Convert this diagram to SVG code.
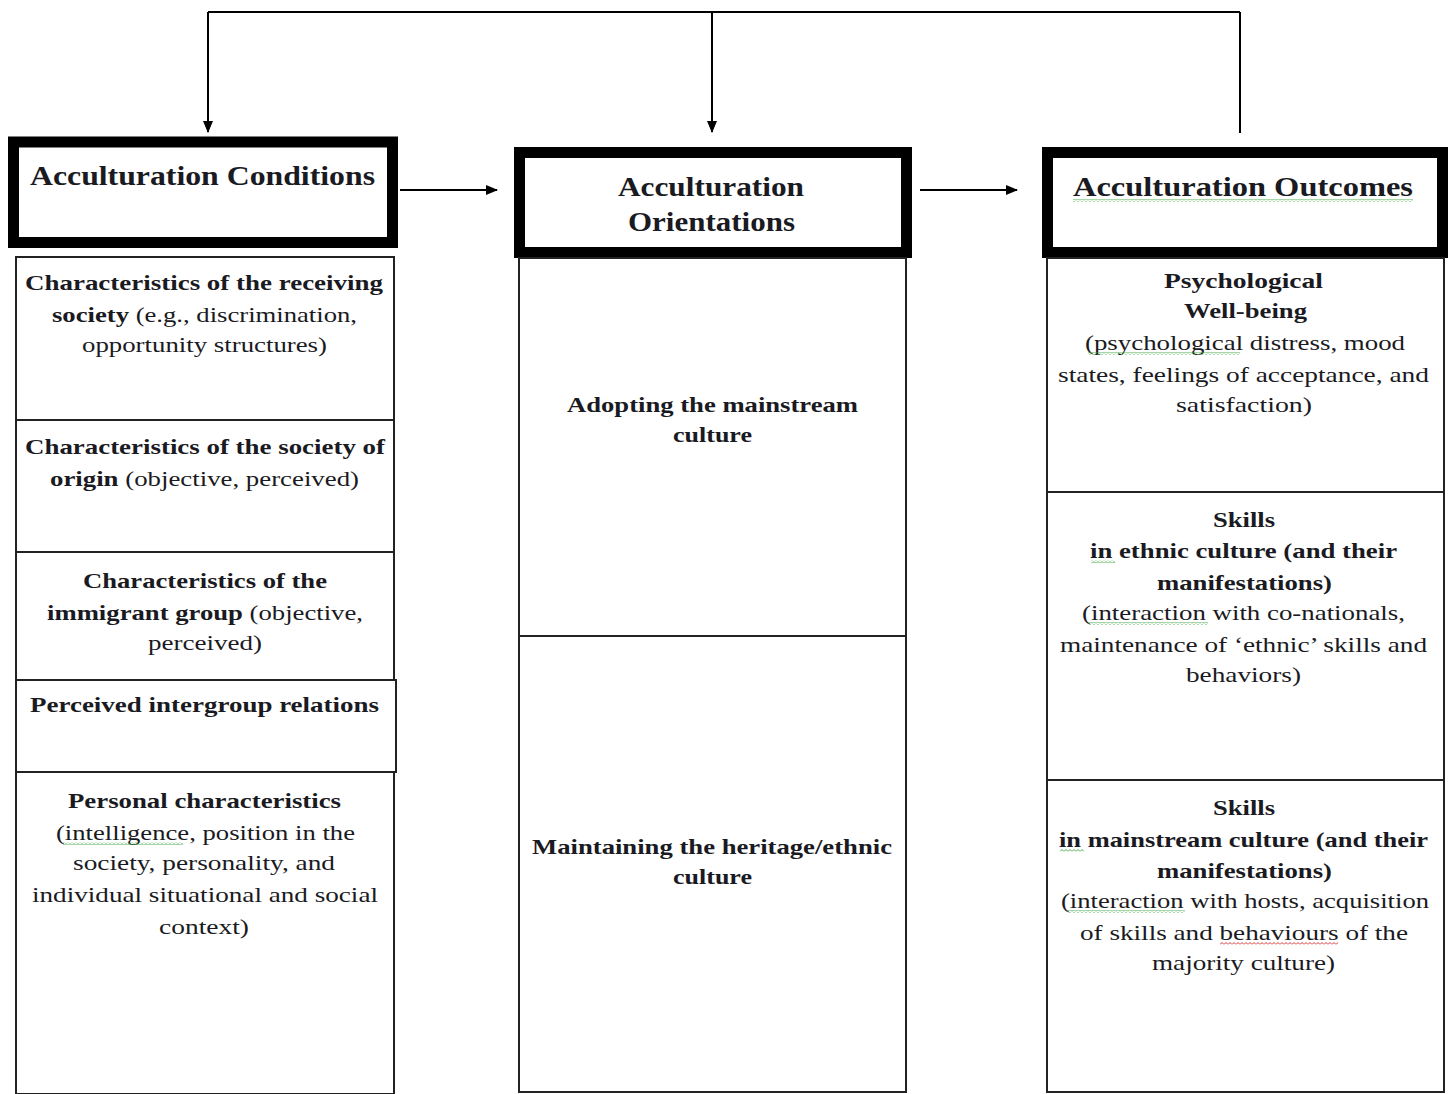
<svg xmlns="http://www.w3.org/2000/svg" width="1453" height="1094" viewBox="0 0 1453 1094">
<defs>
<marker id="ah" markerWidth="12" markerHeight="10" refX="11" refY="5" orient="auto" markerUnits="userSpaceOnUse">
<path d="M0,0 L12,5 L0,10 Z" fill="#000"/>
</marker>
<pattern id="sqg" width="4" height="3" patternUnits="userSpaceOnUse">
<path d="M0,2.5 L2,0.5 L4,2.5" fill="none" stroke="#3aa53a" stroke-width="0.9"/>
</pattern>
<pattern id="sqr" width="4" height="3" patternUnits="userSpaceOnUse">
<path d="M0,2.5 L2,0.5 L4,2.5" fill="none" stroke="#d02020" stroke-width="0.9"/>
</pattern>
</defs>
<style>
.hdr{fill:#fff;stroke:#000;stroke-width:11}
.box{fill:#fff;stroke:#222;stroke-width:2}
.con{fill:none;stroke:#000;stroke-width:2}
text{font-family:"Liberation Serif","Times New Roman",serif;fill:#1a1a22;text-anchor:middle}
.ht{font-size:28px;font-weight:bold}
.t{font-size:22px}
.b{font-weight:bold}
</style>
<rect width="1453" height="1094" fill="#fff"/>

<g id="connectors">
<path class="con" d="M208,12 L1240,12"/>
<path class="con" d="M208,12 L208,132" marker-end="url(#ah)"/>
<path class="con" d="M712,12 L712,132" marker-end="url(#ah)"/>
<path class="con" d="M1240,12 L1240,133"/>
<path class="con" d="M400,190 L497,190" marker-end="url(#ah)"/>
<path class="con" d="M920,190 L1017,190" marker-end="url(#ah)"/>
</g>

<g id="conditions-header">
<rect class="hdr" x="13.5" y="142" width="379" height="100.5"/>
<text class="ht" x="202.5" y="185" textLength="345" lengthAdjust="spacingAndGlyphs">Acculturation  Conditions</text>
</g>
<g id="receiving-society">
<rect class="box" x="16" y="257" width="378" height="163"/>
<text class="t" x="204" y="290" textLength="358" lengthAdjust="spacingAndGlyphs"><tspan class="b">Characteristics of the receiving</tspan></text>
<text class="t" x="204.5" y="322" textLength="305" lengthAdjust="spacingAndGlyphs"><tspan class="b">society</tspan> (e.g.,  discrimination,</text>
<text class="t" x="204.5" y="352" textLength="245" lengthAdjust="spacingAndGlyphs">opportunity structures)</text>
</g>
<g id="society-of-origin">
<rect class="box" x="16" y="420" width="378" height="132"/>
<text class="t" x="205" y="454" textLength="360" lengthAdjust="spacingAndGlyphs"><tspan class="b">Characteristics of the society of</tspan></text>
<text class="t" x="204.5" y="486" textLength="309" lengthAdjust="spacingAndGlyphs"><tspan class="b">origin</tspan> (objective, perceived)</text>
</g>
<g id="immigrant-group">
<rect class="box" x="16" y="552" width="378" height="128"/>
<text class="t" x="205" y="588" textLength="244" lengthAdjust="spacingAndGlyphs"><tspan class="b">Characteristics of the</tspan></text>
<text class="t" x="205" y="620" textLength="316" lengthAdjust="spacingAndGlyphs"><tspan class="b">immigrant group</tspan> (objective,</text>
<text class="t" x="205" y="650" textLength="114" lengthAdjust="spacingAndGlyphs">perceived)</text>
</g>
<g id="intergroup-relations">
<rect class="box" x="16" y="680" width="380" height="92"/>
<text class="t b" x="204.5" y="712" textLength="349" lengthAdjust="spacingAndGlyphs">Perceived intergroup relations</text>
</g>
<g id="personal-characteristics">
<rect class="box" x="16" y="772" width="378" height="322"/>
<text class="t b" x="204.5" y="808" textLength="273" lengthAdjust="spacingAndGlyphs">Personal characteristics</text>
<text class="t" x="205.5" y="840" textLength="299" lengthAdjust="spacingAndGlyphs">(intelligence,  position in the</text>
<rect x="63" y="842" width="120" height="3" fill="url(#sqg)"/>
<text class="t" x="204" y="870" textLength="262" lengthAdjust="spacingAndGlyphs">society, personality, and</text>
<text class="t" x="205" y="902" textLength="346" lengthAdjust="spacingAndGlyphs">individual situational and social</text>
<text class="t" x="204" y="934" textLength="90" lengthAdjust="spacingAndGlyphs">context)</text>
</g>

<g id="orientations-header">
<rect class="hdr" x="519.5" y="152.5" width="387" height="100"/>
<text class="ht" x="711" y="196" textLength="186" lengthAdjust="spacingAndGlyphs">Acculturation</text>
<text class="ht" x="711.5" y="231" textLength="167" lengthAdjust="spacingAndGlyphs">Orientations</text>
</g>
<g id="adopting-mainstream">
<rect class="box" x="519" y="258" width="387" height="378"/>
<text class="t b" x="712.5" y="412" textLength="291" lengthAdjust="spacingAndGlyphs">Adopting the mainstream</text>
<text class="t b" x="712.5" y="442" textLength="79" lengthAdjust="spacingAndGlyphs">culture</text>
</g>
<g id="maintaining-heritage">
<rect class="box" x="519" y="636" width="387" height="456"/>
<text class="t b" x="712" y="854" textLength="360" lengthAdjust="spacingAndGlyphs">Maintaining the heritage/ethnic</text>
<text class="t b" x="712.5" y="884" textLength="79" lengthAdjust="spacingAndGlyphs">culture</text>
</g>

<g id="outcomes-header">
<rect class="hdr" x="1047.5" y="152.5" width="395" height="100"/>
<text class="ht" x="1243" y="196" textLength="340" lengthAdjust="spacingAndGlyphs">Acculturation  Outcomes</text>
<rect x="1073" y="199" width="340" height="3" fill="url(#sqg)"/>
</g>
<g id="psychological-wellbeing">
<rect class="box" x="1047" y="258" width="397" height="234"/>
<text class="t b" x="1243.5" y="288" textLength="159" lengthAdjust="spacingAndGlyphs">Psychological</text>
<text class="t b" x="1245.5" y="318" textLength="123" lengthAdjust="spacingAndGlyphs">Well-being</text>
<text class="t" x="1245" y="350" textLength="320" lengthAdjust="spacingAndGlyphs">(psychological distress, mood</text>
<rect x="1088" y="352" width="152" height="3" fill="url(#sqg)"/>
<text class="t" x="1243.5" y="382" textLength="371" lengthAdjust="spacingAndGlyphs">states, feelings of acceptance, and</text>
<text class="t" x="1244" y="412" textLength="136" lengthAdjust="spacingAndGlyphs">satisfaction)</text>
</g>
<g id="skills-ethnic">
<rect class="box" x="1047" y="492" width="397" height="288"/>
<text class="t b" x="1244" y="527" textLength="62" lengthAdjust="spacingAndGlyphs">Skills</text>
<text class="t b" x="1243.5" y="558" textLength="307" lengthAdjust="spacingAndGlyphs">in ethnic culture (and their</text>
<rect x="1091" y="560" width="24" height="3" fill="url(#sqg)"/>
<text class="t b" x="1244.5" y="590" textLength="175" lengthAdjust="spacingAndGlyphs">manifestations)</text>
<text class="t" x="1243.5" y="620" textLength="323" lengthAdjust="spacingAndGlyphs">(interaction with co-nationals,</text>
<rect x="1088" y="622" width="120" height="3" fill="url(#sqg)"/>
<text class="t" x="1243.5" y="652" textLength="367" lengthAdjust="spacingAndGlyphs">maintenance of ‘ethnic’ skills and</text>
<text class="t" x="1243.5" y="682" textLength="115" lengthAdjust="spacingAndGlyphs">behaviors)</text>
</g>
<g id="skills-mainstream">
<rect class="box" x="1047" y="780" width="397" height="312"/>
<text class="t b" x="1244" y="815" textLength="62" lengthAdjust="spacingAndGlyphs">Skills</text>
<text class="t b" x="1243.5" y="847" textLength="369" lengthAdjust="spacingAndGlyphs">in mainstream culture (and their</text>
<rect x="1060" y="849" width="24" height="3" fill="url(#sqg)"/>
<text class="t b" x="1244.5" y="878" textLength="175" lengthAdjust="spacingAndGlyphs">manifestations)</text>
<text class="t" x="1245" y="908" textLength="368" lengthAdjust="spacingAndGlyphs">(interaction with hosts, acquisition</text>
<rect x="1067" y="910" width="118" height="3" fill="url(#sqg)"/>
<text class="t" x="1244" y="940" textLength="328" lengthAdjust="spacingAndGlyphs">of skills  and behaviours of the</text>
<rect x="1220" y="942" width="118" height="3" fill="url(#sqr)"/>
<text class="t" x="1243.5" y="970" textLength="183" lengthAdjust="spacingAndGlyphs">majority culture)</text>
</g>
</svg>
